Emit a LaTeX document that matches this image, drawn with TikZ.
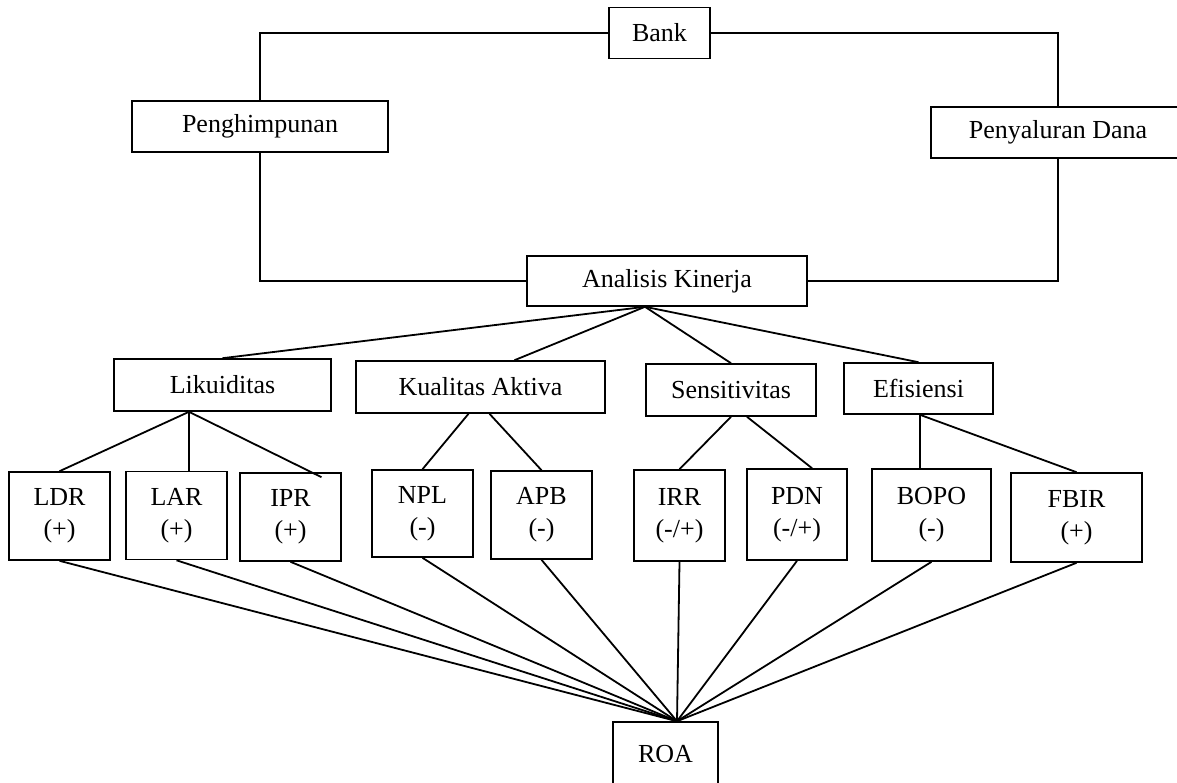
\documentclass[tikz,border=0pt]{standalone}
\usepackage{fontspec}
\setmainfont{Liberation Serif}
\usepackage{tikz}
\usetikzlibrary{calc}

\begin{document}
\begin{tikzpicture}[x=1pt,y=-1pt,line width=1.8pt,
font=\fontsize{26}{32}\selectfont,
every node/.style={draw,rectangle,line width=1.6pt,inner sep=0pt,align=center},
box/.style={minimum height=51pt},
rasio/.style={minimum width=101pt,minimum height=88pt}]
\useasboundingbox (0,0) rectangle (1177,782);

\node (Bank) [box,minimum width=101pt] at (659.5,33) {Bank};
\node (hp) [box,minimum width=256pt] at (260,126.5) {Penghimpunan};
\node (pd) [box,minimum width=254pt] at (1058,132.5) {Penyaluran Dana};
\node (ak) [box,minimum width=280pt,minimum height=50pt] at (667,281) {Analisis Kinerja};

\draw (Bank.west) -| (hp.north);
\draw (hp.south) |- (ak.west);
\draw (Bank.east) -| (pd.north);
\draw (pd.south) |- (ak.east);

% aspek kinerja
\node (lik) [box,minimum width=217pt,minimum height=52pt] at (222.5,385) {Likuiditas};
\node (kua) [box,minimum width=249pt,minimum height=52pt] at (480.5,387) {Kualitas Aktiva};
\node (sen) [box,minimum width=170pt,minimum height=52pt] at (731,390) {Sensitivitas};
\node (efi) [box,minimum width=149pt] at (918.5,388.5) {Efisiensi};

\coordinate (akb) at ([xshift=-22pt]ak.south);
\draw (akb) -- (lik.north);
\draw (akb) -- ([xshift=34pt]kua.north);
\draw (akb) -- (sen.north);
\draw (akb) -- (efi.north);

% rasio
\node (ldr) [rasio] at (59.5,516) {LDR\\(+)};
\node (lar) [rasio] at (176.5,515.5) {LAR\\(+)};
\node (ipr) [rasio] at (290.5,517) {IPR\\(+)};
\node (npl) [rasio,minimum height=87pt] at (422.5,513.5) {NPL\\(-)};
\node (apb) [rasio] at (541.5,515) {APB\\(-)};
\node (irr) [rasio,minimum width=91pt,minimum height=91pt] at (679.5,515.5) {IRR\\(-/+)};
\node (pdn) [rasio,minimum width=100pt,minimum height=91pt] at (797,514.5) {PDN\\(-/+)};
\node (bopo) [rasio,minimum width=119pt,minimum height=92pt] at (931.5,515) {BOPO\\(-)};
\node (fbir) [rasio,minimum width=131pt,minimum height=89pt] at (1076.5,517.5) {FBIR\\(+)};

\coordinate (likb) at ([xshift=-33.5pt]lik.south);
\coordinate (efib) at ([xshift=1.5pt]efi.south);
\draw (likb) -- (ldr.north);
\draw (likb) -- (likb |- lar.north);
\draw (likb) -- ([xshift=31pt,yshift=-5pt]ipr.north);
\draw ([xshift=-12pt]kua.south) -- (npl.north);
\draw ([xshift=9pt]kua.south) -- (apb.north);
\draw (sen.south) -- (irr.north);
\draw ([xshift=16pt]sen.south) -- ([xshift=15pt]pdn.north);
\draw (efib) -- (efib |- bopo.north);
\draw (efib) -- (fbir.north);

\node (roa) [minimum width=105pt,minimum height=64pt] at (665.5,754) {ROA};
\coordinate (roat) at ([xshift=11.5pt]roa.north);
\foreach \r in {ldr,lar,ipr,npl,apb,irr,pdn,bopo,fbir}
  \draw (\r.south) -- (roat);
\end{tikzpicture}
\end{document}
